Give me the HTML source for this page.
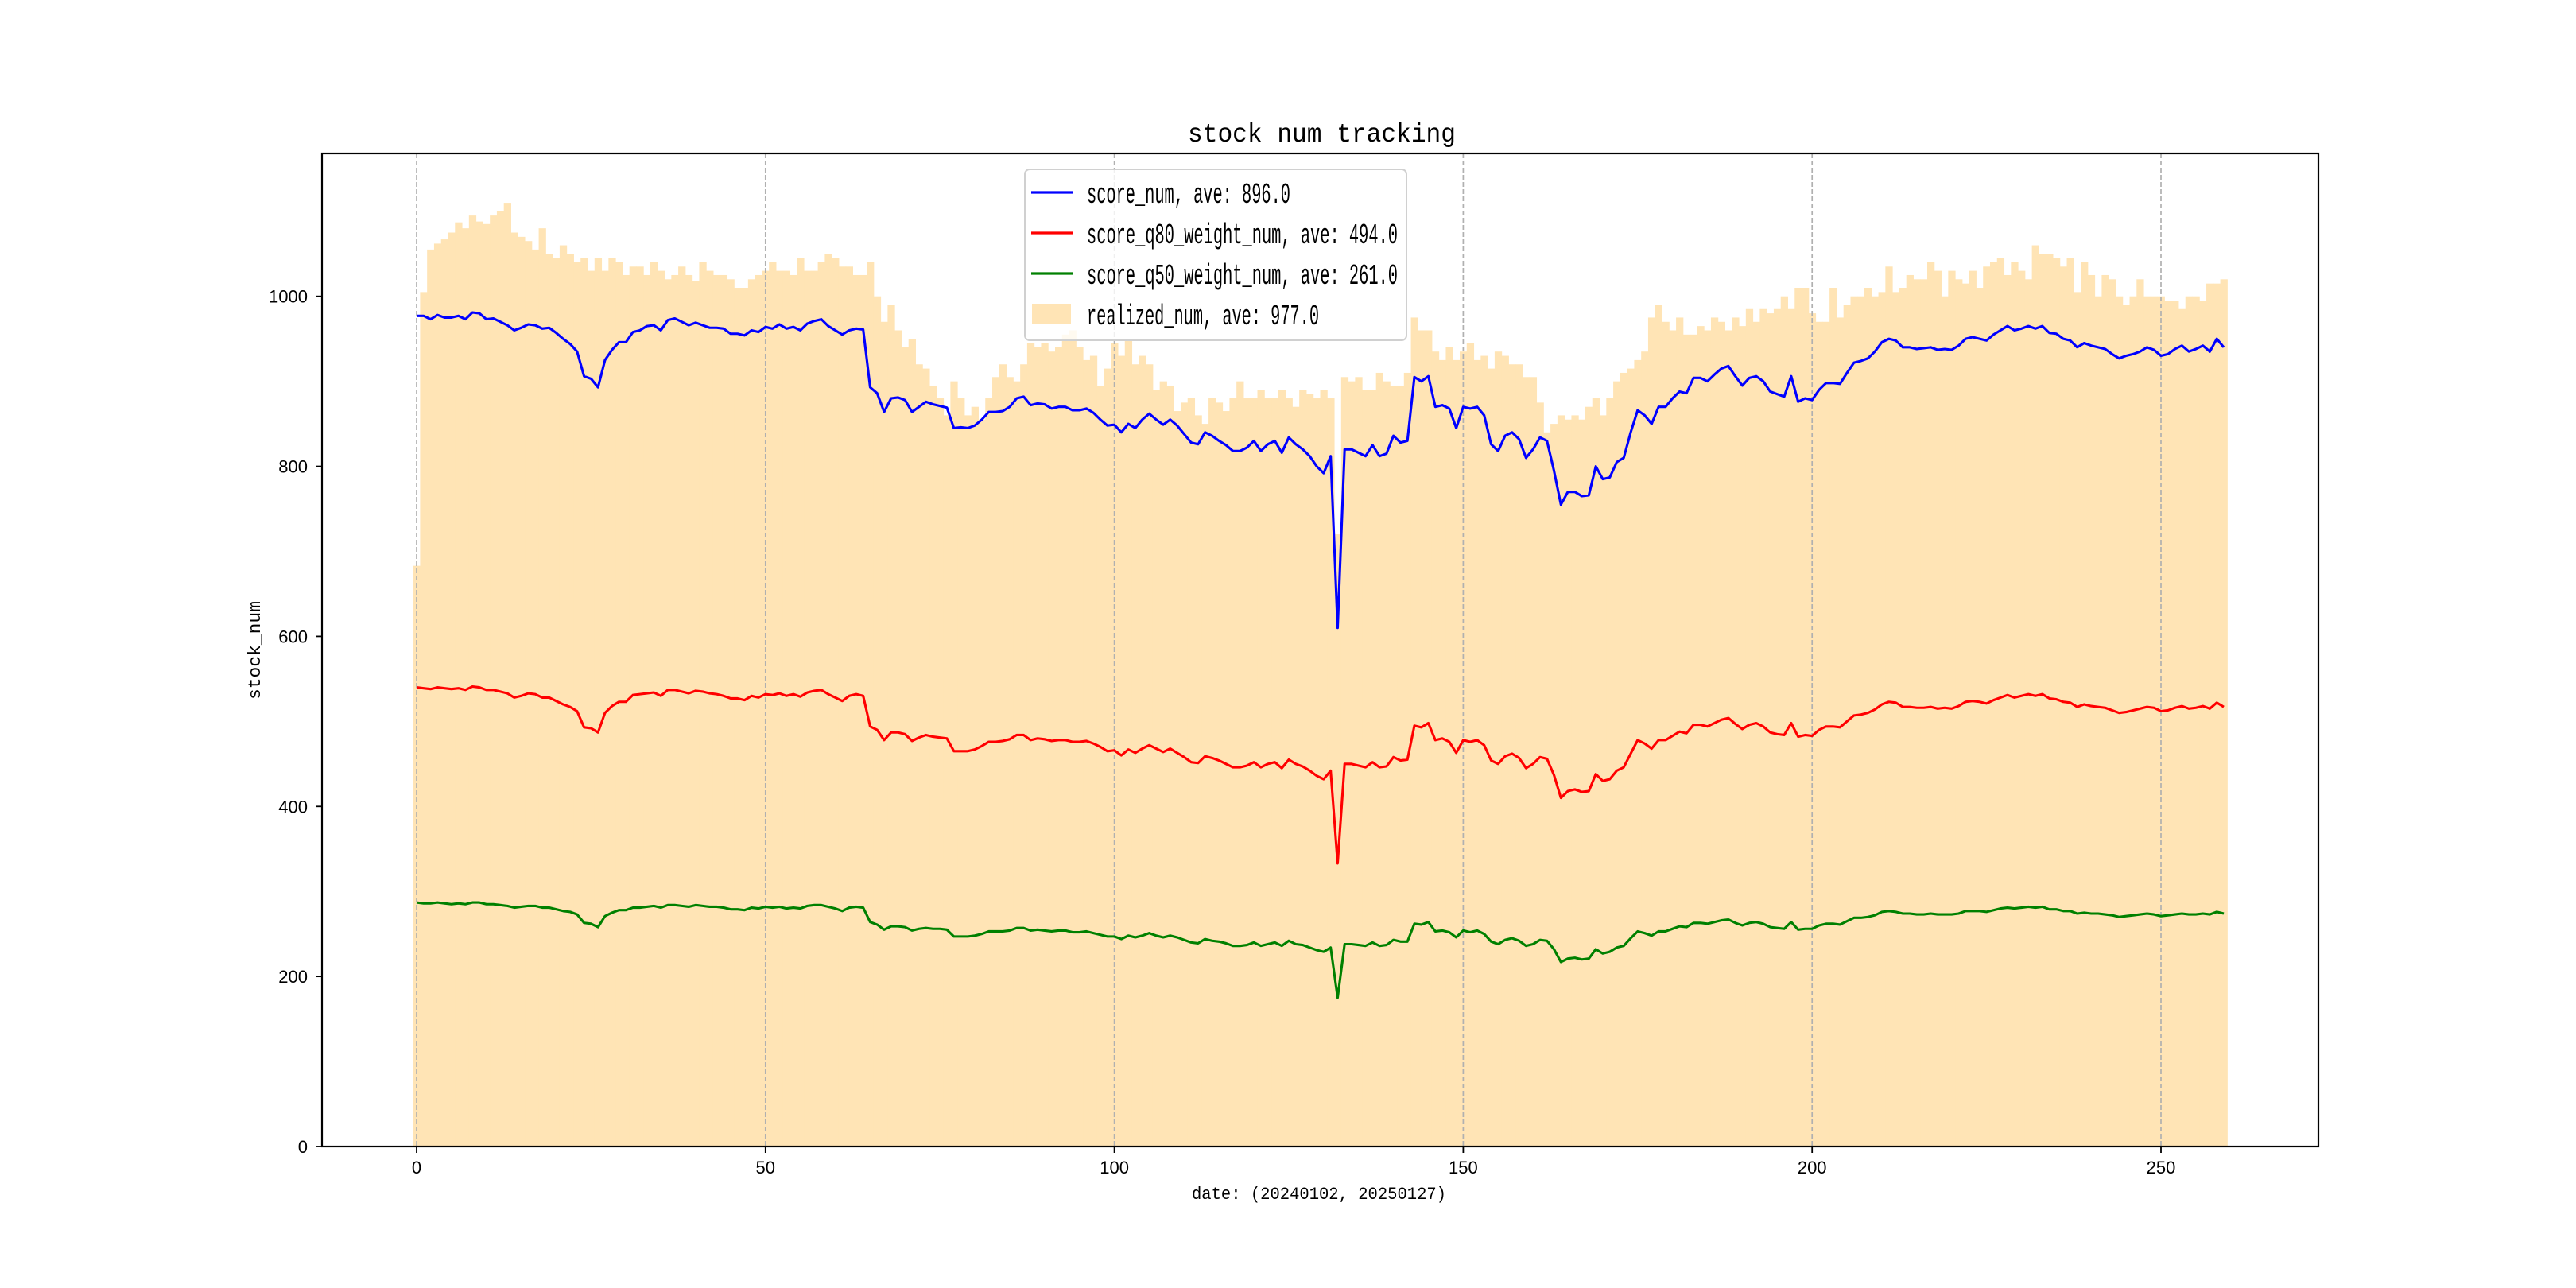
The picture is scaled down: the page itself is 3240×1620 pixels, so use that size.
<!DOCTYPE html>
<html><head><meta charset="utf-8"><title>stock num tracking</title>
<style>html,body{margin:0;padding:0;background:#fff}svg{display:block}</style></head>
<body>
<svg id="chart" width="3240" height="1620" viewBox="0 0 3240 1620" xmlns="http://www.w3.org/2000/svg" font-family="'Liberation Mono','Noto Sans CJK SC',monospace">
<rect width="3240" height="1620" fill="#fff"/>
<g id="bars"></g>
<g id="grid"></g>
<g id="lines"></g>
<rect x="405" y="193" width="2511" height="1249" fill="none" stroke="#000" stroke-width="2.2"/>
<g id="xticks"></g>
<g id="yticks"></g>
<text x="1494" y="178" font-size="33" textLength="337" lengthAdjust="spacingAndGlyphs">stock num tracking</text>
<text x="1499" y="1508" font-size="22" textLength="320" lengthAdjust="spacingAndGlyphs">date: (20240102, 20250127)</text>
<text transform="translate(327,880) rotate(-90)" font-size="22" textLength="124" lengthAdjust="spacingAndGlyphs">stock_num</text>
<g>
<rect x="1289" y="213" width="480" height="215" rx="6" fill="#fff" fill-opacity="0.8" stroke="#d0d0d0" stroke-width="2"/>
<g><line x1="1297" y1="242" x2="1349" y2="242" stroke="#0000ff" stroke-width="3.2"/><text x="1367" y="255" font-size="36" textLength="256" lengthAdjust="spacingAndGlyphs">score_num, ave: 896.0</text></g>
<g><line x1="1297" y1="293" x2="1349" y2="293" stroke="#ff0000" stroke-width="3.2"/><text x="1367" y="306" font-size="36" textLength="391" lengthAdjust="spacingAndGlyphs">score_q80_weight_num, ave: 494.0</text></g>
<g><line x1="1297" y1="344" x2="1349" y2="344" stroke="#008000" stroke-width="3.2"/><text x="1367" y="357" font-size="36" textLength="391" lengthAdjust="spacingAndGlyphs">score_q50_weight_num, ave: 261.0</text></g>
<g><rect x="1298" y="382" width="49" height="26" fill="#ffe4b5"/><text x="1367" y="408" font-size="36" textLength="292" lengthAdjust="spacingAndGlyphs">realized_num, ave: 977.0</text></g>
</g>
</svg>
<script>
const scoreNum=[977,977,973,978,975,975,977,973,981,980,973,974,970,966,960,963,967,966,962,963,957,950,944,935,906,903,893,925,937,946,946,958,960,965,966,960,972,974,970,966,969,966,963,963,962,956,956,954,960,958,964,962,967,962,964,960,968,971,973,965,960,955,960,962,961,893,886,864,880,881,878,864,870,876,873,871,869,845,846,845,848,855,864,864,865,870,880,882,872,874,873,868,870,870,866,866,868,863,855,848,849,840,850,845,855,862,855,849,855,848,838,828,826,840,836,830,825,818,818,822,830,818,826,830,816,834,826,820,812,800,792,812,610,820,820,816,812,825,812,815,836,828,830,905,900,906,870,872,868,845,870,868,870,860,826,818,836,840,832,810,820,834,830,795,755,770,770,765,766,800,785,787,805,810,840,866,860,850,870,870,880,888,886,904,904,900,908,915,918,906,895,904,906,900,888,885,882,906,876,880,878,890,898,898,897,910,922,924,927,935,946,950,948,940,940,938,939,940,937,938,937,942,950,952,950,948,955,960,965,960,962,965,962,965,957,956,950,948,940,945,942,940,938,932,927,930,932,935,940,937,930,932,938,942,935,938,942,935,950,940];
const q80Num=[540,539,538,540,539,538,539,537,541,540,537,537,535,533,528,530,533,532,528,528,524,520,517,512,493,492,487,510,518,523,523,531,532,533,534,530,537,537,535,533,536,535,533,532,530,527,527,525,530,528,532,531,533,530,532,529,534,536,537,532,528,524,530,532,530,494,490,478,487,487,485,477,481,484,482,481,480,465,465,465,467,471,476,476,477,479,484,484,478,480,479,477,478,478,476,476,477,474,470,465,466,460,467,463,468,472,468,464,468,463,458,452,451,459,457,454,450,446,446,448,452,446,450,452,445,455,450,447,442,436,432,442,333,450,450,448,446,452,446,447,458,454,455,495,493,498,478,480,476,463,478,476,478,472,454,450,459,462,457,445,450,458,456,437,410,418,420,417,418,438,430,432,442,446,462,478,474,468,478,478,483,488,486,496,496,494,498,502,504,497,491,496,498,494,487,485,484,498,482,484,483,490,494,494,493,500,507,508,510,514,520,523,522,517,517,516,516,517,515,516,515,518,523,524,523,521,525,528,531,528,530,532,530,532,527,526,523,522,517,520,518,517,516,513,510,511,513,515,517,516,512,513,516,518,515,516,518,515,522,517];
const q50Num=[287,286,286,287,286,285,286,285,287,287,285,285,284,283,281,282,283,283,281,281,279,277,276,273,263,262,258,271,275,278,278,281,281,282,283,281,284,284,283,282,284,283,282,282,281,279,279,278,281,280,282,281,282,280,281,280,283,284,284,282,280,277,281,282,281,264,261,255,259,259,258,254,256,257,256,256,255,247,247,247,248,250,253,253,253,254,257,257,254,255,254,253,254,254,252,252,253,251,249,247,247,244,248,246,248,251,248,246,248,246,243,240,239,244,242,241,239,236,236,237,240,236,238,240,236,242,238,237,234,231,229,234,175,238,238,237,236,240,236,237,243,241,241,262,261,264,253,254,252,246,254,252,254,250,241,238,243,245,242,236,238,243,242,232,217,221,222,220,221,232,227,229,234,236,245,253,251,248,253,253,256,259,258,263,263,262,264,266,267,263,260,263,264,262,258,257,256,264,255,256,256,260,262,262,261,265,269,269,270,272,276,277,276,274,274,273,273,274,273,273,273,274,277,277,277,276,278,280,281,280,281,282,281,282,279,279,277,277,274,275,274,274,273,272,270,271,272,273,274,273,271,272,273,274,273,273,274,273,276,274];
const realizedNum=[683,1005,1055,1062,1067,1075,1087,1080,1095,1088,1085,1095,1100,1110,1075,1070,1065,1055,1080,1050,1045,1060,1050,1040,1045,1030,1045,1030,1045,1040,1025,1035,1035,1025,1040,1030,1020,1025,1035,1025,1018,1040,1030,1025,1025,1020,1010,1010,1020,1025,1030,1040,1030,1030,1025,1045,1030,1030,1040,1050,1045,1035,1035,1025,1025,1040,1000,970,990,960,940,950,920,915,895,880,860,900,880,860,870,855,880,905,920,905,900,920,945,940,945,935,940,955,960,940,925,930,895,915,945,930,950,920,930,920,890,900,895,865,875,880,860,850,880,875,865,880,900,880,880,890,880,880,890,880,870,890,885,880,890,880,720,905,900,905,890,890,910,900,895,895,910,975,960,960,935,925,940,925,935,945,925,930,915,935,930,920,920,905,905,875,840,850,860,855,860,855,870,880,860,880,900,910,915,925,935,975,990,970,960,975,955,955,965,960,975,970,960,975,965,985,970,985,980,985,1000,985,1010,1010,980,970,970,1010,975,990,1000,1000,1010,1000,1005,1035,1005,1010,1025,1020,1020,1040,1030,1000,1030,1020,1015,1030,1010,1035,1040,1045,1025,1040,1030,1020,1060,1050,1050,1045,1035,1045,1005,1040,1025,1000,1025,1020,1000,990,1000,1020,1000,1000,1000,995,995,985,1000,1000,995,1015,1015,1020];
const xTicks=[0,50,100,150,200,250];
const yTicks=[0,200,400,600,800,1000];

const NS='http://www.w3.org/2000/svg';
const xS=v=>524+v*(2194/250);
const yS=v=>1442-v*1.0693;
function mk(tag,attrs,parent){const e=document.createElementNS(NS,tag);for(const k in attrs)e.setAttribute(k,attrs[k]);parent.appendChild(e);return e;}

const bars=document.getElementById('bars');
realizedNum.forEach((v,i)=>{
  const r=mk('rect',{x:xS(i-0.5),y:yS(v),width:xS(i+0.5)-xS(i-0.5)+0.5,height:yS(0)-yS(v),fill:'#ffe4b5'},bars);
  
  
});

const grid=document.getElementById('grid');
const xt=document.getElementById('xticks');
xTicks.forEach(t=>{
  const x=xS(t);
  const g=mk('line',{x1:x,y1:193,x2:x,y2:1442,stroke:'#b0b0b0','stroke-width':1.7,'stroke-dasharray':'6,3'},grid);
  
  
  mk('line',{x1:x,y1:1442,x2:x,y2:1450,stroke:'#000','stroke-width':1.8},xt);
  const tx=mk('text',{x:x,y:1476,'text-anchor':'middle','font-size':22,'font-family':"'Liberation Sans',sans-serif"},xt);
  tx.textContent=t;
  
  
});
const yt=document.getElementById('yticks');
yTicks.forEach(t=>{
  const y=yS(t);
  mk('line',{x1:397,y1:y,x2:405,y2:y,stroke:'#000','stroke-width':1.8},yt);
  const tx=mk('text',{x:387,y:y+8,'text-anchor':'end','font-size':22,'font-family':"'Liberation Sans',sans-serif"},yt);
  tx.textContent=t;
  
  
});

const lines=document.getElementById('lines');
[[scoreNum,'#0000ff','score-num-line'],[q80Num,'#ff0000','score-q80-line'],[q50Num,'#008000','score-q50-line']].forEach(([arr,c,n])=>{
  const d=arr.map((v,i)=>(i?'L':'M')+xS(i).toFixed(2)+','+yS(v).toFixed(2)).join('');
  const p=mk('path',{d:d,fill:'none',stroke:c,'stroke-width':3.1,'stroke-linejoin':'round'},lines);
  
  
});
</script>
</body></html>
